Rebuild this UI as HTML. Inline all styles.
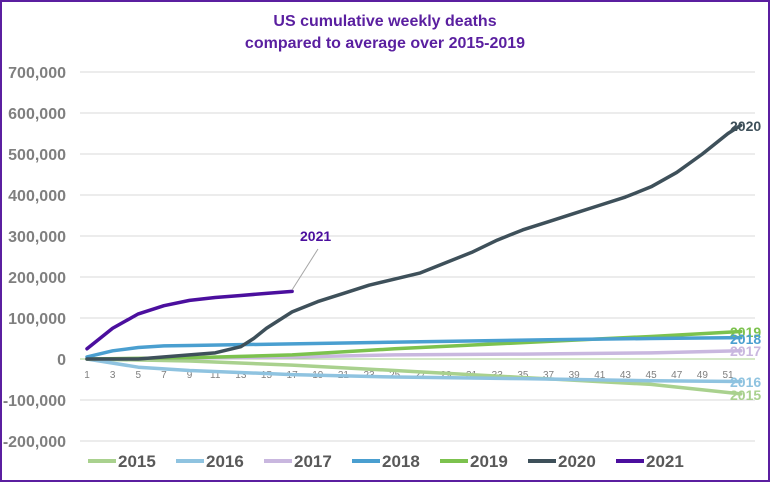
<!DOCTYPE html><html><head><style>
body{margin:0;width:770px;height:482px;overflow:hidden;background:#fff}
svg{display:block;font-family:"Liberation Sans",sans-serif}
</style></head><body>
<svg width="770" height="482" id="s">
<rect x="1" y="1" width="768" height="480" fill="#fff" stroke="#5b1fa0" stroke-width="2"/>
<text x="385" y="26" text-anchor="middle" font-size="16" font-weight="bold" fill="#5a1fa0">US cumulative weekly deaths</text>
<text x="385" y="48" text-anchor="middle" font-size="16" font-weight="bold" fill="#5a1fa0">compared to average over 2015-2019</text>
<g id="grid" stroke="#d9d9d9" stroke-width="1"></g>
<g id="yl" font-size="16" font-weight="bold" fill="#7f7f7f" text-anchor="end"></g>
<g id="xl" font-size="10" fill="#7f7f7f" text-anchor="middle"></g>
<g id="series" fill="none" stroke-width="3.5" stroke-linejoin="round" stroke-linecap="round"></g>
<line x1="318" y1="249" x2="292" y2="290" stroke="#a6a6a6" stroke-width="1"/>
<text x="300" y="241" font-size="14" font-weight="bold" fill="#4b0f9e">2021</text>
<g font-size="14" font-weight="bold">
<text x="730" y="131" fill="#3e505a">2020</text>
<text x="730" y="337" fill="#7cc24e">2019</text>
<text x="730" y="344" fill="#4a9fd0">2018</text>
<text x="730" y="356" fill="#c9b7df">2017</text>
<text x="730" y="387" fill="#8fc3e0">2016</text>
<text x="730" y="400" fill="#a9d18e">2015</text>
</g>
<g id="leg" font-size="17" font-weight="bold" fill="#595959"></g>
</svg>
<script>
const ns="http://www.w3.org/2000/svg";
function el(p,t,a,txt){const e=document.createElementNS(ns,t);for(const k in a)e.setAttribute(k,a[k]);if(txt)e.textContent=txt;document.getElementById(p).appendChild(e);}
const Y=v=>359-v*0.00041, X=w=>87+12.82*(w-1);
for(let v=-200000;v<=700000;v+=100000){
 if(v!==0)el("grid","line",{x1:80,x2:755,y1:Y(v),y2:Y(v)});
 el("yl","text",{x:66,y:Y(v)+6},v===0?"0":v.toLocaleString("en-US"));
}
el("grid","line",{x1:80,x2:755,y1:Y(0),y2:Y(0),stroke:"#a9d18e"});
for(let w=1;w<=51;w+=2)el("xl","text",{x:X(w),y:378},String(w));
const S={
"#a9d18e":[[1,0],[9,-5e3],[17,-15e3],[25,-28e3],[35,-45e3],[45,-62e3],[52,-85e3]],
"#8fc3e0":[[1,0],[5,-20e3],[9,-28e3],[17,-38e3],[25,-44e3],[35,-48e3],[45,-53e3],[52,-55e3]],
"#c9b7df":[[1,0],[17,5e3],[25,10e3],[35,12e3],[45,15e3],[52,20e3]],
"#7cc24e":[[1,0],[9,3e3],[17,10e3],[25,25e3],[35,40e3],[45,55e3],[52,67e3]],
"#4a9fd0":[[1,5e3],[3,20e3],[5,28e3],[7,32e3],[9,33e3],[17,37e3],[27,42e3],[37,47e3],[45,50e3],[52,52e3]],
"#3e505a":[[1,0],[5,0],[9,10e3],[11,15e3],[13,30e3],[14,50e3],[15,75e3],[17,115e3],[19,140e3],[21,160e3],[23,180e3],[25,195e3],[27,210e3],[29,235e3],[31,260e3],[33,290e3],[35,315e3],[37,335e3],[39,355e3],[41,375e3],[43,395e3],[45,420e3],[47,455e3],[49,500e3],[51,550e3],[52,570e3]],
"#4b0f9e":[[1,25e3],[3,75e3],[5,110e3],[7,130e3],[9,143e3],[11,150e3],[13,155e3],[15,160e3],[17,165e3]]};
for(const c in S)el("series","polyline",{stroke:c,points:S[c].map(p=>X(p[0])+","+Y(p[1])).join(" ")});
const L=[["2015","#a9d18e"],["2016","#8fc3e0"],["2017","#c9b7df"],["2018","#4a9fd0"],["2019","#7cc24e"],["2020","#3e505a"],["2021","#4b0f9e"]];
L.forEach((l,i)=>{const x=88+i*88;el("leg","line",{x1:x,x2:x+28,y1:461,y2:461,stroke:l[1],"stroke-width":4});el("leg","text",{x:x+30,y:467},l[0]);});
</script>
</body></html>
